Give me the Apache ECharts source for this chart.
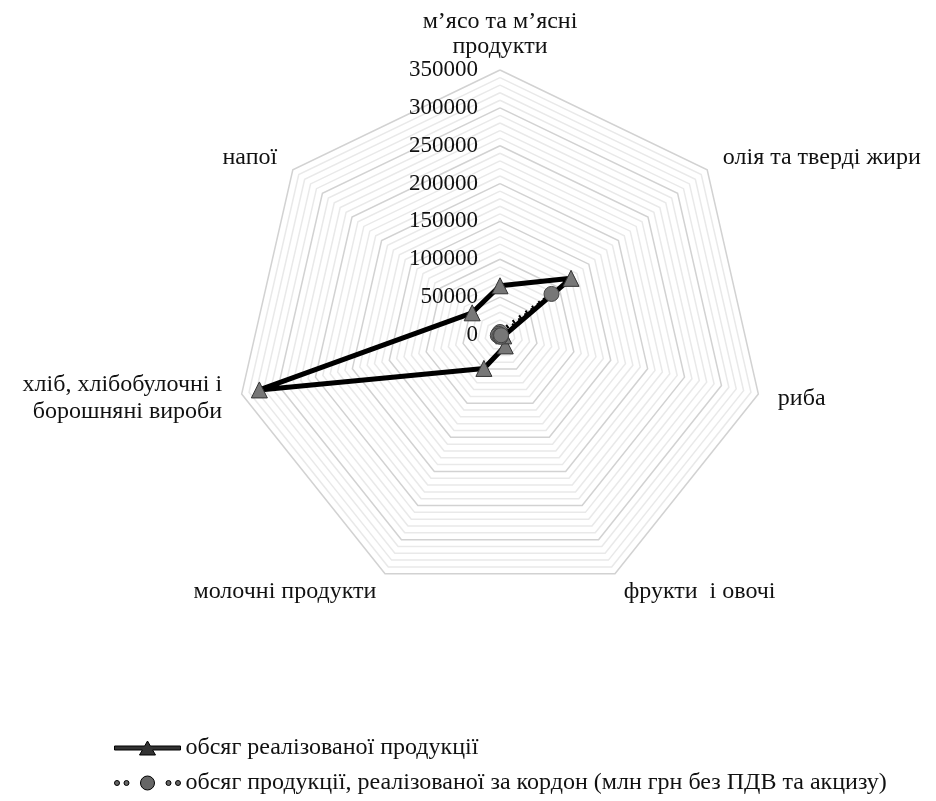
<!DOCTYPE html>
<html>
<head>
<meta charset="utf-8">
<script src="https://cdn.jsdelivr.net/npm/echarts@6/dist/echarts.min.js"></script>
<style>
  html, body { margin: 0; padding: 0; background: #fff; }
  #chart { width: 936px; height: 801px; }
</style>
</head>
<body>
<div id="chart"></div>
<script>
// категорії за годинниковою стрілкою, починаючи зверху
const categories = [
  'м’ясо та м’ясні\nпродукти',
  'олія та тверді жири',
  'риба',
  'фрукти  і овочі',
  'молочні продукти',
  'хліб, хлібобулочні і\nборошняні вироби',
  'напої'
]
const soldVolume = [65000, 120000, 5000, 16000, 49000, 326000, 47000]
const exportVolume = [4000, 87000, 1500, 2500, 2000, 3000, 2500]
const seriesNames = [
  'обсяг реалізованої продукції',
  'обсяг продукції, реалізованої за кордон (млн грн без ПДВ та акцизу)'
]
const axisMax = 350000

const font = 'Liberation Serif'
const chart = echarts.init(document.getElementById('chart'))

// ECharts кладе осі проти годинникової стрілки, тому перший лишаємо, решту розвертаємо
const order = [0, ...categories.map((_, i) => i).slice(1).reverse()]
const pick = arr => order.map(i => arr[i])

// лінії сітки: кожна п'ята трохи темніша
const ringColors = ['#d2d2d2', '#e9e9e9', '#e9e9e9', '#e9e9e9', '#e9e9e9']

const solidIcon = 'path://M0,6H30.14L33,1L35.86,6H66V10H38.14L41,15H25L27.86,10H0Z'
const dottedIcon = 'path://' + [2.5, 12, 54, 63.5].map(x =>
  `M${x - 2.5},8a2.5,2.5 0 1,0 5,0a2.5,2.5 0 1,0 -5,0Z`).join('') +
  'M26,8a7,7 0 1,0 14,0a7,7 0 1,0 -14,0Z'

const option = {
  backgroundColor: '#fff',
  textStyle: { fontFamily: font },
  legend: {
    orient: 'vertical',
    left: 114,
    top: 736,
    padding: 0,
    itemGap: 11,
    itemWidth: 66,
    itemHeight: 16,
    textStyle: { fontFamily: font, fontSize: 24, color: '#111' },
    data: [
      { name: seriesNames[0], icon: solidIcon, itemStyle: { color: '#333', borderColor: '#000', borderWidth: 1 } },
      { name: seriesNames[1], icon: dottedIcon, itemStyle: { color: '#666', borderColor: '#000', borderWidth: 1 } }
    ]
  },
  radar: {
    center: [500, 335],
    radius: 265,
    startAngle: 90,
    splitNumber: 35,
    shape: 'polygon',
    nameGap: 20,
    axisName: {
      color: '#111',
      fontFamily: font,
      fontSize: 24,
      lineHeight: 27,
      // верхній підпис ближче до вершини
      formatter: (name, ind) => {
        if (name !== categories[0]) return name
        const [a, b] = name.split('\n')
        return `{a|${a}}\n{b|${b}}`
      },
      rich: {
        a: { fontFamily: font, fontSize: 24, color: '#111', lineHeight: 44 },
        b: { fontFamily: font, fontSize: 24, color: '#111', lineHeight: 6 }
      }
    },
    axisLine: { show: false },
    axisTick: { show: false },
    splitArea: { show: false },
    splitLine: { lineStyle: { color: ringColors, width: 1.5 } },
    axisLabel: { show: false },
    indicator: pick(categories).map((name, i) => {
      const ind = { name: name, min: 0, max: axisMax }
      if (i === 0) {
        ind.axisLabel = {
          show: true,
          margin: 22,
          align: 'right',
          fontFamily: font,
          fontSize: 23,
          color: '#111',
          formatter: v => (v % 50000 === 0 ? String(v) : '')
        }
      }
      return ind
    })
  },
  series: [{
    type: 'radar',
    data: [
      {
        name: seriesNames[0],
        value: pick(soldVolume),
        symbol: 'triangle',
        symbolSize: 16,
        lineStyle: { color: '#000', width: 5, type: 'solid' },
        itemStyle: { color: '#777', borderColor: '#333', borderWidth: 1 }
      },
      {
        name: seriesNames[1],
        value: pick(exportVolume),
        symbol: 'circle',
        symbolSize: 15,
        lineStyle: { color: '#000', width: 4, type: [2, 6] },
        itemStyle: { color: '#777', borderColor: '#444', borderWidth: 1 }
      }
    ]
  }]
}
chart.setOption(option)
</script>
</body>
</html>
